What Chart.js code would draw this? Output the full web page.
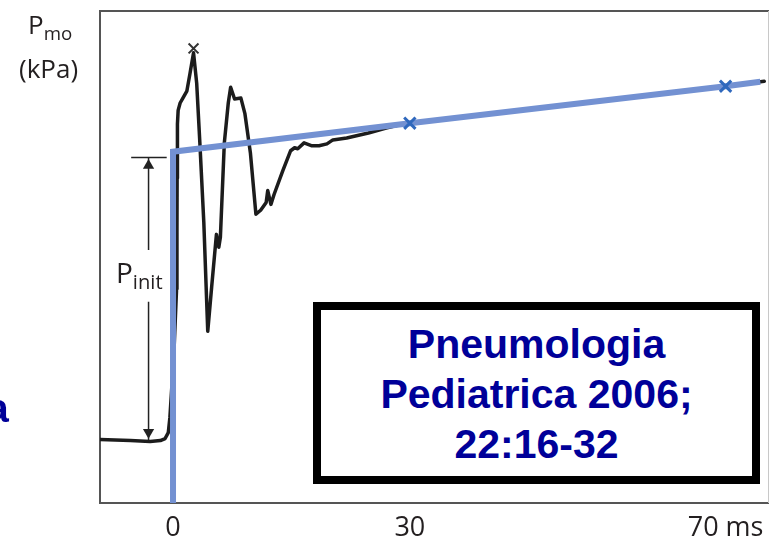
<!DOCTYPE html>
<html>
<head>
<meta charset="utf-8">
<script src="https://cdn.jsdelivr.net/npm/chart.js@4.4.1/dist/chart.umd.min.js"></script>
<style>
  html, body { margin: 0; padding: 0; background: #fff; }
  #wrap { position: relative; width: 780px; height: 545px; overflow: hidden; }
  #chart { position: absolute; left: 0; top: 0; }
  .lbl { position: absolute; font-family: "Open Sans", "DejaVu Sans", sans-serif; color: #231f20; white-space: nowrap; line-height: 1; }
  .lbl sub { font-size: 0.72em; vertical-align: -0.32em; }
  #ref { position: absolute; left: 313px; top: 302px; width: 431px; height: 166px;
         border: 8px solid #000; background: #fff; text-align: center;
         font-family: "Liberation Sans", Arial, sans-serif; font-weight: bold;
         font-size: 41px; line-height: 50px; color: #000099; padding-top: 0; }
  #ref div:first-child { margin-top: 9px; }
  #cut { position: absolute; left: -14px; top: 383px; font-family: "Liberation Sans", Arial, sans-serif;
         font-weight: bold; font-size: 41px; line-height: 50px; color: #000099; }
</style>
</head>
<body>
<div id="wrap">
  <canvas id="chart" width="780" height="545"></canvas>
  <div class="lbl" style="left:28px; top:11px; font-size:26px;">P<sub>mo</sub></div>
  <div class="lbl" style="left:19px; top:55px; font-size:26px;">(kPa)</div>
  <div class="lbl" style="left:116px; top:258px; font-size:28px;">P<sub>init</sub></div>
  <div id="cut">a</div>
  <div id="ref">
    <div>Pneumologia</div>
    <div>Pediatrica 2006;</div>
    <div>22:16-32</div>
  </div>
</div>
<script>
// Mouth pressure trace after an airway occlusion (time in ms, pressure in arbitrary units)
const traceMs = [-9.25, -5.4, -2.9, -1.6, -1.0, -0.6, -0.4, 0.1, 0.45, 0.5, 0.52, 0.56, 0.65, 0.9, 1.25, 1.75, 2.15, 2.6,
  3.0, 3.4, 3.9, 4.4, 4.9, 5.5, 5.8, 6.0, 6.5, 7.0, 7.3, 7.8, 8.6, 9.1, 9.8, 10.5, 11.1, 11.8, 12.0,
  12.4, 12.8, 13.9, 14.9, 15.4, 15.8, 16.6, 17.6, 18.5, 19.5, 20.25, 22.0, 24.75, 27.0, 29.1, 30, 70, 74.9];
const tracePressure = [12.9, 12.7, 12.5, 12.7, 13.1, 14.3, 17.3, 30.0, 43.5, 55.0, 66.0, 77.0, 79.8, 81.3, 82.3, 83.7, 87.3, 91.5,
  85.3, 73.2, 57.1, 34.9, 44.0, 54.6, 52.0, 54.0, 73.2, 81.3, 84.5, 82.1, 82.3, 79.2, 71.2, 58.7, 59.5, 61.1, 63.5,
  60.7, 62.7, 67.5, 71.6, 72.2, 72.0, 73.2, 72.6, 72.6, 73.0, 73.8, 74.2, 75.2, 76.2, 77.0, 77.2, 84.7, 85.7];

// Fitted line: step at occlusion, then linear rise through the two reference points
const fitMs = [0, 0, 30, 70, 74.4];
const fitPressure = [0, 71.4, 77.2, 84.7, 85.6];
const fitMarkMs = [30, 70];
const fitMarkPressure = [77.2, 84.7];

// Peak of the first oscillation
const peakMs = [2.6];
const peakPressure = [92.4];

// P_init dimension arrow
const pinitMs = -3.1;
const pinitBarMs = [-5.3, -0.8];
const pinitTop = 70.2;
const pinitBase = 12.8;
const pinitGapTop = 51.4;
const pinitGapBottom = 40.9;
const arrowHeadPressure = [68.6, 14.4];

// X axis ticks
const tickValues = [0, 30, 70];
const tickLabels = ['0', '30', '70 ms'];

const pts = (xs, ys) => xs.map((x, i) => ({ x: x, y: ys[i] }));

const frame = {
  id: 'frame',
  beforeDatasetsDraw(chart) {
    const a = chart.chartArea, c = chart.ctx;
    c.save();
    c.lineWidth = 2;
    c.strokeStyle = '#555';
    c.beginPath();
    c.moveTo(a.right, a.top); c.lineTo(a.left, a.top); c.lineTo(a.left, a.bottom); c.lineTo(a.right, a.bottom);
    c.stroke();
    c.lineWidth = 1;
    c.strokeStyle = '#c8c8c8';
    c.beginPath(); c.moveTo(a.right - 0.5, a.top); c.lineTo(a.right - 0.5, a.bottom); c.stroke();
    c.restore();
  }
};

const BLACK = '#1c1c1c';
const BLUE = '#7391d2';
const MARK = '#2f68bd';

new Chart(document.getElementById('chart'), {
  type: 'scatter',
  data: {
    datasets: [
      { data: pts(fitMarkMs, fitMarkPressure), pointStyle: 'crossRot', pointRadius: 8,
        borderColor: MARK, pointBorderWidth: 3, order: 0 },
      { data: pts(fitMs, fitPressure), showLine: true, borderColor: BLUE, borderWidth: 6,
        pointRadius: 0, tension: 0, order: 1 },
      { data: pts(peakMs, peakPressure), pointStyle: 'crossRot', pointRadius: 7,
        borderColor: '#333', pointBorderWidth: 2, order: 2 },
      { data: pts(traceMs, tracePressure), showLine: true, borderColor: BLACK, borderWidth: 3.5,
        pointRadius: 0, tension: 0, borderJoinStyle: 'round', borderCapStyle: 'round', order: 3 },
      { data: pts(pinitBarMs, [pinitTop, pinitTop]), showLine: true, borderColor: '#222', borderWidth: 1.5,
        pointRadius: 0, order: 4 },
      { data: pts([pinitMs, pinitMs], [pinitTop, pinitGapTop]), showLine: true, borderColor: '#222', borderWidth: 1.5,
        pointRadius: 0, order: 4 },
      { data: pts([pinitMs, pinitMs], [pinitGapBottom, pinitBase]), showLine: true, borderColor: '#222', borderWidth: 1.5,
        pointRadius: 0, order: 4 },
      { data: pts([pinitMs, pinitMs], arrowHeadPressure), pointStyle: 'triangle', pointRadius: 6.5,
        pointRotation: [0, 180], backgroundColor: '#222', borderColor: '#222', pointBorderWidth: 0, order: 4 }
    ]
  },
  options: {
    responsive: false,
    animation: false,
    layout: { padding: { left: 100, top: 7, right: 2, bottom: 0 } },
    plugins: { legend: { display: false }, tooltip: { enabled: false } },
    scales: {
      x: {
        type: 'linear', min: -9.25, max: 75.5,
        grid: { display: false, drawTicks: false },
        border: { display: false },
        afterBuildTicks: (s) => { s.ticks = tickValues.map(v => ({ value: v })); },
        afterFit: (s) => { s.height = 42; },
        ticks: {
          padding: 9,
          color: '#231f20',
          font: { family: '"Open Sans", "DejaVu Sans", sans-serif', size: 27 },
          maxRotation: 0, autoSkip: false,
          callback: (v) => tickLabels[tickValues.indexOf(v)]
        }
      },
      y: { type: 'linear', min: 0, max: 100, display: false }
    }
  },
  plugins: [frame]
});
</script>
</body>
</html>
